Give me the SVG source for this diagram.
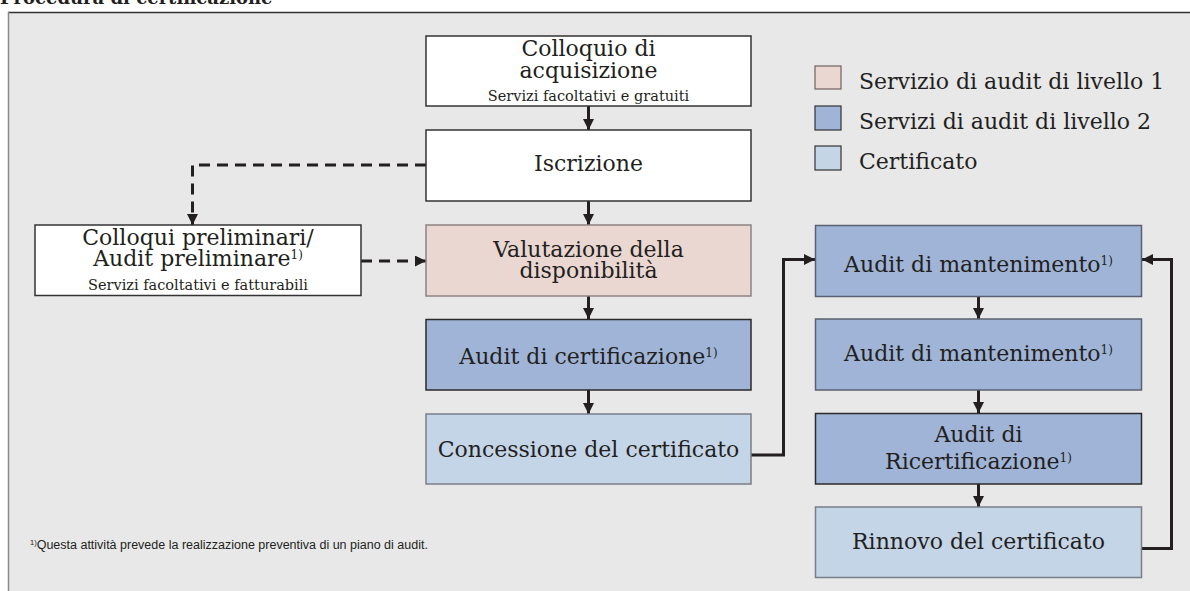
<svg xmlns="http://www.w3.org/2000/svg" width="1190" height="591" viewBox="0 0 1190 591">
<defs>
<marker id="ah" markerUnits="userSpaceOnUse" markerWidth="12" markerHeight="11" refX="11" refY="5.5" orient="auto">
<path d="M0,0 L11,5.5 L0,11 z" fill="#231f20"/>
</marker>
<style>
.t{font-family:"DejaVu Serif","Liberation Serif",serif;font-size:22px;fill:#231f20;text-anchor:middle}
.s{font-family:"DejaVu Serif","Liberation Serif",serif;font-size:14.5px;fill:#231f20;text-anchor:middle}
.sup{font-size:12px}
.lg{font-family:"DejaVu Serif","Liberation Serif",serif;font-size:22px;fill:#231f20}
.w{fill:#ffffff;stroke:#333;stroke-width:1.5}
.p{fill:#ead7d2;stroke:#8c8280;stroke-width:1.5}
.b{fill:#9fb4d6;stroke:#2a2a2a;stroke-width:1.5}
.bg{fill:#9fb4d6;stroke:#5a6070;stroke-width:1.5}
.l{fill:#c5d5e8;stroke:#7a7e86;stroke-width:1.5}
.c{fill:none;stroke:#231f20;stroke-width:3}
.d{fill:none;stroke:#231f20;stroke-width:3;stroke-dasharray:11 7}
</style>
</defs>
<rect x="0" y="0" width="1190" height="591" fill="#ffffff"/>
<text x="0" y="3.5" font-family="'DejaVu Serif','Liberation Serif',serif" font-weight="bold" font-size="18" fill="#231f20">Procedura di certificazione</text>
<rect x="8" y="12" width="1184" height="585" fill="#e8e8e8"/>
<line x1="8" y1="12.5" x2="1190" y2="12.5" stroke="#333" stroke-width="1.5"/>
<line x1="8.5" y1="12" x2="8.5" y2="591" stroke="#888" stroke-width="1.5"/>

<g id="legend">
<rect x="815" y="66" width="26" height="23" fill="#ead7d2" stroke="#6d6260" stroke-width="1.2"/>
<text class="lg" x="859" y="89">Servizio di audit di livello 1</text>
<rect x="815" y="106" width="26" height="24" fill="#9fb4d6" stroke="#333" stroke-width="1.2"/>
<text class="lg" x="859" y="129">Servizi di audit di livello 2</text>
<rect x="815" y="146" width="26" height="24" fill="#c5d5e8" stroke="#333" stroke-width="1.2"/>
<text class="lg" x="859" y="169">Certificato</text>
</g>

<g id="connectors">
<line class="c" x1="588.5" y1="106" x2="588.5" y2="130" marker-end="url(#ah)"/>
<line class="c" x1="588.5" y1="201" x2="588.5" y2="225" marker-end="url(#ah)"/>
<line class="c" x1="588.5" y1="296" x2="588.5" y2="319" marker-end="url(#ah)"/>
<line class="c" x1="588.5" y1="390" x2="588.5" y2="414" marker-end="url(#ah)"/>
<line class="c" x1="978.5" y1="296.5" x2="978.5" y2="319" marker-end="url(#ah)"/>
<line class="c" x1="978.5" y1="390" x2="978.5" y2="413" marker-end="url(#ah)"/>
<line class="c" x1="978.5" y1="484" x2="978.5" y2="507" marker-end="url(#ah)"/>
<path class="c" d="M751,455 H783.5 V259.5 H815" marker-end="url(#ah)"/>
<path class="c" d="M1142,548.5 H1171.5 V259.5 H1142" marker-end="url(#ah)"/>
<path class="d" d="M426,165 H192.5 V225" marker-end="url(#ah)"/>
<path class="d" d="M361,261 H426" marker-end="url(#ah)"/>
</g>

<g id="n-colloquio">
<rect class="w" x="426" y="36" width="325" height="70"/>
<text class="t" x="588.5" y="56">Colloquio di<tspan x="588.5" dy="22">acquisizione</tspan></text>
<text class="s" x="588.5" y="100.5">Servizi facoltativi e gratuiti</text>
</g>
<g id="n-iscrizione">
<rect class="w" x="426" y="130" width="325" height="71"/>
<text class="t" x="588.5" y="171">Iscrizione</text>
</g>
<g id="n-preliminari">
<rect class="w" x="35" y="225" width="326" height="70.5"/>
<text class="t" x="198" y="244.5">Colloqui preliminari/<tspan x="198" dy="21.5">Audit preliminare</tspan><tspan class="sup" dy="-7">1)</tspan></text>
<text class="s" x="198" y="289.5">Servizi facoltativi e fatturabili</text>
</g>
<g id="n-valutazione">
<rect class="p" x="426" y="225" width="325" height="71"/>
<text class="t" x="588.5" y="256.5">Valutazione della<tspan x="588.5" dy="21">disponibilità</tspan></text>
</g>
<g id="n-audit-cert">
<rect class="b" x="426" y="319.5" width="325" height="70.5"/>
<text class="t" x="588.5" y="364">Audit di certificazione<tspan class="sup" dy="-7">1)</tspan></text>
</g>
<g id="n-concessione">
<rect class="l" x="426" y="414" width="325" height="70"/>
<text class="t" x="588.5" y="457">Concessione del certificato</text>
</g>
<g id="n-mant1">
<rect class="bg" x="815.5" y="225.5" width="326" height="71"/>
<text class="t" x="978.5" y="272">Audit di mantenimento<tspan class="sup" dy="-7">1)</tspan></text>
</g>
<g id="n-mant2">
<rect class="bg" x="815.5" y="319" width="326" height="71"/>
<text class="t" x="978.5" y="361">Audit di mantenimento<tspan class="sup" dy="-7">1)</tspan></text>
</g>
<g id="n-ricert">
<rect class="b" x="815.5" y="413.5" width="326" height="70.5"/>
<text class="t" x="978.5" y="442">Audit di<tspan x="978.5" dy="26.5">Ricertificazione</tspan><tspan class="sup" dy="-7">1)</tspan></text>
</g>
<g id="n-rinnovo">
<rect class="l" x="815.5" y="507" width="326" height="70.5"/>
<text class="t" x="978.5" y="548.5">Rinnovo del certificato</text>
</g>

<text x="30" y="549" font-family="'Liberation Sans',Arial,sans-serif" font-size="12.5" fill="#231f20"><tspan font-size="7.5" dy="-4.5">1)</tspan><tspan dy="4.5">Questa attività prevede la realizzazione preventiva di un piano di audit.</tspan></text>
</svg>
